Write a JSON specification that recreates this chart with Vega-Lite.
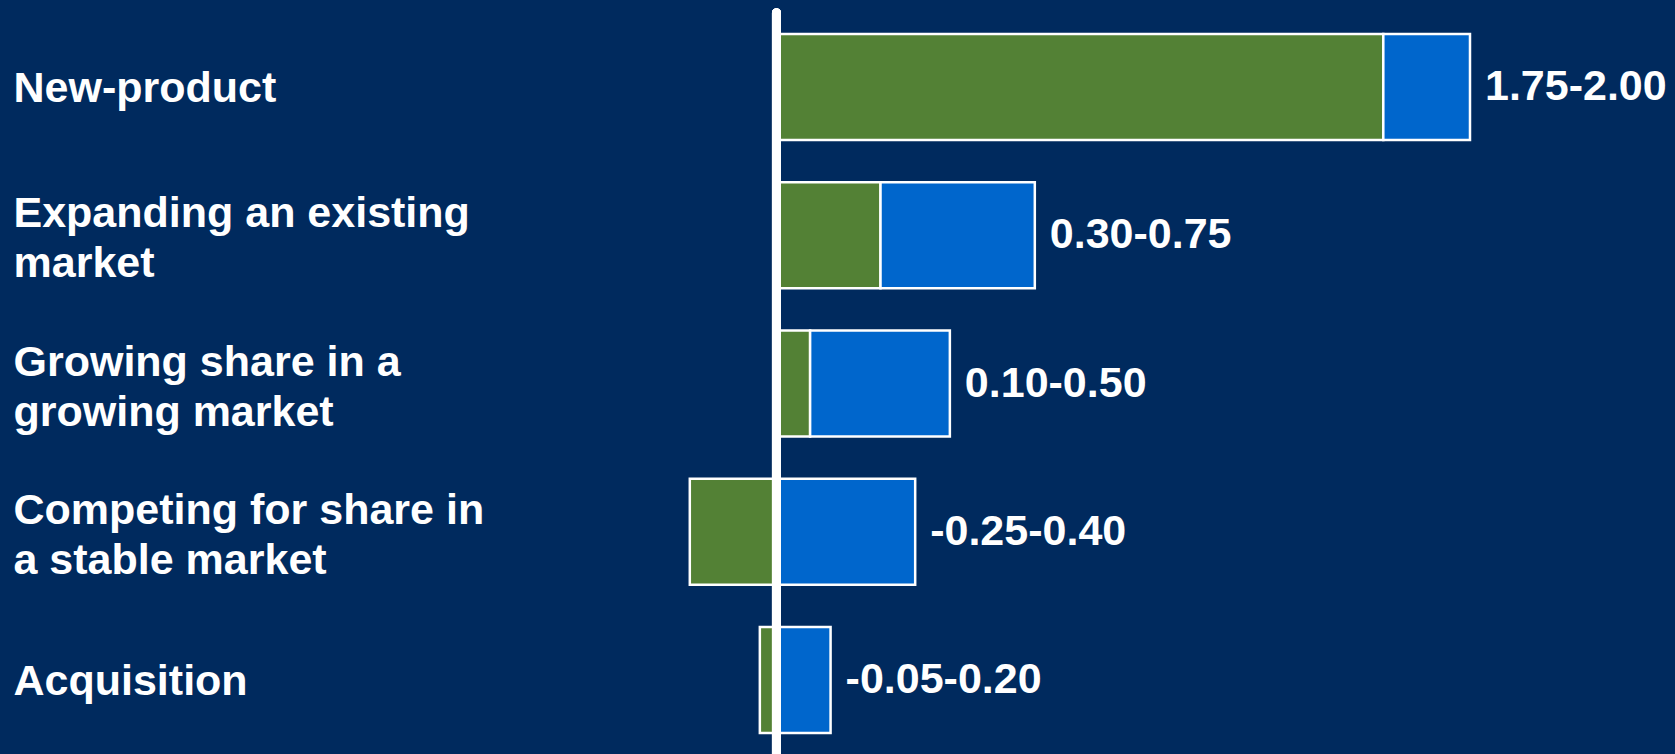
{
  "$schema": "https://vega.github.io/schema/vega-lite/v6.json",
  "width": 1657,
  "height": 741,
  "autosize": {"type": "none"},
  "padding": {"left": 13, "top": 13, "right": 5, "bottom": 0},
  "background": "#002A5E",
  "config": {"view": {"stroke": null}},
  "datasets": {
    "bars": [
      {"category": "New-product", "segment": "low", "start": 0, "end": 1.75, "label": "1.75-2.00"},
      {"category": "New-product", "segment": "high", "start": 1.75, "end": 2.0, "label": "1.75-2.00"},
      {"category": "Expanding an existing|market", "segment": "low", "start": 0, "end": 0.3, "label": "0.30-0.75"},
      {"category": "Expanding an existing|market", "segment": "high", "start": 0.3, "end": 0.745, "label": "0.30-0.75"},
      {"category": "Growing share in a|growing market", "segment": "low", "start": 0, "end": 0.097, "label": "0.10-0.50"},
      {"category": "Growing share in a|growing market", "segment": "high", "start": 0.097, "end": 0.5, "label": "0.10-0.50"},
      {"category": "Competing for share in|a stable market", "segment": "low", "start": -0.25, "end": 0, "label": "-0.25-0.40"},
      {"category": "Competing for share in|a stable market", "segment": "high", "start": 0, "end": 0.4, "label": "-0.25-0.40"},
      {"category": "Acquisition", "segment": "low", "start": -0.048, "end": 0, "label": "-0.05-0.20"},
      {"category": "Acquisition", "segment": "high", "start": 0, "end": 0.156, "label": "-0.05-0.20"}
    ]
  },
  "data": {"name": "bars"},
  "layer": [
    {
      "mark": {"type": "bar", "stroke": "white", "strokeWidth": 2.5},
      "encoding": {
        "y": {
          "field": "category", "type": "nominal", "sort": null,
          "scale": {"paddingInner": 0.285, "paddingOuter": 0.1425},
          "axis": {
            "title": null, "domain": false, "ticks": false, "tickSize": 0,
            "labelAlign": "left", "labelBaseline": "middle", "labelPadding": 0,
            "labelFont": "Liberation Sans", "labelFontWeight": "bold", "labelFontSize": 43,
            "labelColor": "white", "labelLineHeight": 50, "labelLimit": 0,
            "labelOverlap": false, "labelBound": false,
            "labelOffset": {"condition": {"test": "indexof(datum.value, '|') >= 0", "value": -21}, "value": 2},
            "labelExpr": "split(datum.label, '|')"
          }
        },
        "x": {
          "field": "start", "type": "quantitative",
          "scale": {"domain": [-2.2018, 2.5768], "nice": false, "zero": false},
          "axis": null
        },
        "x2": {"field": "end"},
        "color": {
          "field": "segment", "type": "nominal",
          "scale": {"domain": ["low", "high"], "range": ["#538135", "#0066CC"]},
          "legend": null
        }
      }
    },
    {
      "transform": [{"filter": "datum.segment === 'high'"}],
      "mark": {
        "type": "text", "align": "left", "baseline": "middle", "dx": 15,
        "font": "Liberation Sans", "fontWeight": "bold", "fontSize": 43, "color": "white"
      },
      "encoding": {
        "y": {"field": "category", "type": "nominal", "sort": null},
        "x": {"field": "end", "type": "quantitative"},
        "text": {"field": "label"}
      }
    },
    {
      "mark": {"type": "rule", "color": "white", "strokeWidth": 9, "strokeCap": "round"},
      "encoding": {"x": {"datum": 0, "type": "quantitative"}}
    }
  ]
}
